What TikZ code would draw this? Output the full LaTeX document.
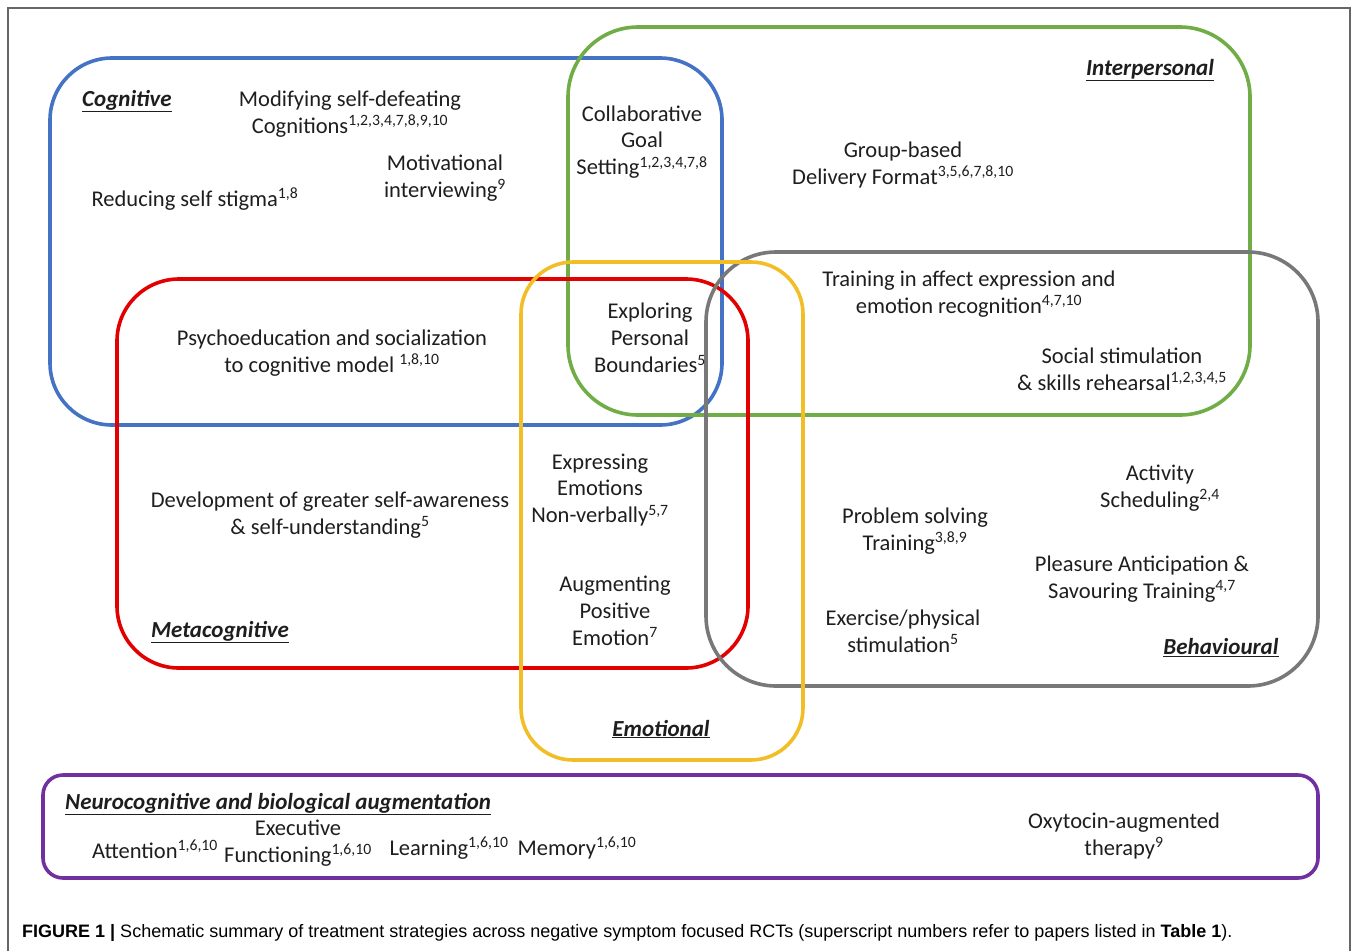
\documentclass[tikz,border=0pt]{standalone}
\usepackage{fontspec}
\setmainfont{Carlito}
\newfontfamily\capfont{Liberation Sans}
\newcommand\sups[1]{\textsuperscript{#1}}
\newcommand\lab[1]{\underline{\textbf{\textit{#1}}}}
\definecolor{cblue}{RGB}{68,114,196}
\definecolor{cgreen}{RGB}{112,173,71}
\definecolor{cred}{RGB}{226,0,0}
\definecolor{cyellow}{RGB}{242,190,40}
\definecolor{cgray}{RGB}{120,120,120}
\definecolor{cpurple}{RGB}{112,48,160}
\definecolor{ctext}{RGB}{30,30,30}
\begin{document}
\begin{tikzpicture}[x=1pt,y=-1pt,
  box/.style={line width=3.6pt},
  txt/.style={align=center, font=\fontsize{22.5}{26.8}\selectfont, inner sep=0pt, text=ctext},
  lbl/.style={font=\fontsize{23}{26}\selectfont, inner sep=0pt, text=ctext}]
\useasboundingbox (0,0) rectangle (1358,951);
% outer frame
\draw[line width=1.5pt, gray!80!black] (8,951) -- (8,8) -- (1350,8) -- (1350,951);
% boxes
\draw[box, cblue, rounded corners=62pt] (50,58) rectangle (722,425);
\draw[box, cgreen, rounded corners=70pt] (568,27) rectangle (1250,415);
\draw[box, cred, rounded corners=62pt] (117,279) rectangle (748,668);
\draw[box, cgray, rounded corners=70pt] (706,252) rectangle (1318,686);
\draw[box, cyellow, rounded corners=52pt] (521,262) rectangle (803,760);
\draw[box, cpurple, rounded corners=20pt] (43,775) rectangle (1318,878);
% labels
\node[lbl] (lcog) at (127,101) {\lab{Cognitive}};
\node[lbl] (lint) at (1150,70) {\lab{Interpersonal}};
\node[lbl] (lmeta) at (220,632) {\lab{Metacognitive}};
\node[lbl] (lbeh) at (1221,648) {\lab{Behavioural}};
\node[lbl] (lemo) at (661,729) {\lab{Emotional}};
\node[lbl, anchor=west] (lneu) at (65,804) {\lab{Neurocognitive and biological augmentation}};
% texts
\node[txt] (modif) at (350,114) {Modifying self-defeating\\Cognitions\sups{1,2,3,4,7,8,9,10}};
\node[txt] (stigma) at (195,199) {Reducing self stigma\sups{1,8}};
\node[txt] (motiv) at (445,178) {Motivational\\interviewing\sups{9}};
\node[txt] (collab) at (642,142) {Collaborative\\Goal\\Setting\sups{1,2,3,4,7,8}};
\node[txt] (group) at (903,165) {Group-based\\Delivery Format\sups{3,5,6,7,8,10}};
\node[txt] (train) at (969,294) {Training in affect expression and\\emotion recognition\sups{4,7,10}};
\node[txt] (social) at (1122,369) {Social stimulation\\\& skills rehearsal\sups{1,2,3,4,5}};
\node[txt] (psycho) at (332,353) {Psychoeducation and socialization\\to cognitive model \sups{1,8,10}};
\node[txt] (explore) at (650,338) {Exploring\\Personal\\Boundaries\sups{5}};
\node[txt] (devel) at (330,515) {Development of greater self-awareness\\\& self-understanding\sups{5}};
\node[txt] (express) at (600,490) {Expressing\\Emotions\\Non-verbally\sups{5,7}};
\node[txt] (augm) at (615,611) {Augmenting\\Positive\\Emotion\sups{7}};
\node[txt] (problem) at (915,531) {Problem solving\\Training\sups{3,8,9}};
\node[txt] (activity) at (1160,488) {Activity\\Scheduling\sups{2,4}};
\node[txt] (pleasure) at (1142,579) {Pleasure Anticipation \&\\Savouring Training\sups{4,7}};
\node[txt] (exercise) at (903,631) {Exercise/physical\\stimulation\sups{5}};
\node[txt] (attn) at (155,849) {Attention\sups{1,6,10}};
\node[txt] (exec) at (298,843) {Executive\\Functioning\sups{1,6,10}};
\node[txt] (learn) at (449,848) {Learning\sups{1,6,10}};
\node[txt] (memory) at (577,848) {Memory\sups{1,6,10}};
\node[txt] (oxy) at (1124,836) {Oxytocin-augmented\\therapy\sups{9}};
% caption
\node[anchor=west, inner sep=0pt, font=\capfont\fontsize{18}{20}\selectfont] (cap) at (22,933)
  {\textbf{FIGURE 1 |} Schematic summary of treatment strategies across negative symptom focused RCTs (superscript numbers refer to papers listed in \textbf{Table 1}).};
\end{tikzpicture}
\end{document}
